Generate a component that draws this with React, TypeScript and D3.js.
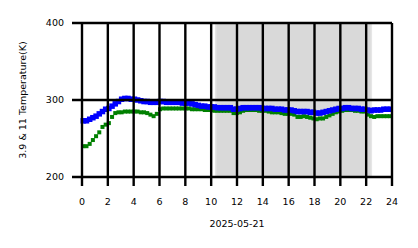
import React from "react";
import * as d3 from "d3";

const blueValues = [
  273, 273, 275, 277, 279, 282, 285, 288, 289, 292, 295, 298, 301, 302, 302, 301,
  301, 300, 299, 298, 298, 297, 297, 297, 298, 298, 297, 297, 297, 297, 297, 296,
  296, 296, 295, 294, 293, 292, 292, 291, 291, 291, 290, 290, 290, 290, 290, 288,
  288, 289, 290, 290, 290, 290, 290, 290, 289, 289, 289, 289, 288, 288, 288, 287,
  287, 287, 286, 285, 285, 285, 285, 284, 284, 283, 283, 284, 285, 286, 287, 288,
  289, 289, 290, 290, 289, 289, 289, 288, 288, 287, 286, 287, 287, 287, 288, 288, 288,
];

const greenValues = [
  240, 240, 243, 248, 253, 258, 265, 268, 270, 278, 283, 284, 284, 285, 285, 285,
  285, 285, 284, 284, 283, 281, 279, 282, 288, 289, 289, 289, 289, 289, 289, 289,
  289, 289, 288, 288, 288, 288, 287, 287, 287, 286, 286, 286, 286, 286, 286, 283,
  283, 284, 286, 287, 287, 287, 287, 286, 286, 286, 285, 284, 284, 284, 283, 282,
  282, 282, 281, 278, 278, 279, 278, 277, 276, 275, 276, 276, 278, 280, 282, 284,
  285, 286, 287, 287, 287, 286, 286, 285, 285, 281, 279, 278, 279, 279, 279, 279, 279,
];

const startHour = 0.1;
const stepHour = 0.2475;
const xTicks = [0, 2, 4, 6, 8, 10, 12, 14, 16, 18, 20, 22, 24];
const yTicks = [200, 300, 400];
const shadeSpan = [10.35, 22.4];
const xLabel = "2025-05-21";
const yLabel = "3.9 & 11 Temperature(K)";

const W = 418;
const H = 248;
const left = 82;
const right = 392;
const top = 23;
const bottom = 177;

export default function App() {
  const x = d3.scaleLinear().domain([0, 24]).range([left, right]);
  const y = d3.scaleLinear().domain([200, 400]).range([bottom, top]);
  const times = blueValues.map((_, i) => startHour + i * stepHour);
  const font = "DejaVu Sans, sans-serif";
  const bs = 5.5;
  const gs = 4;
  return (
    <svg
      width={W}
      height={H}
      style={{ position: "absolute", left: 0, top: 0, background: "#fff" }}
    >
      <rect
        x={x(shadeSpan[0])}
        y={top}
        width={x(shadeSpan[1]) - x(shadeSpan[0])}
        height={bottom - top}
        fill="#d9d9d9"
        stroke="#e6e6e6"
        strokeWidth={1.5}
      />
      {greenValues.map((v, i) => (
        <rect
          key={"g" + i}
          x={x(times[i]) - gs / 2}
          y={y(v) - gs / 2}
          width={gs}
          height={gs}
          fill="#008000"
        />
      ))}
      {blueValues.map((v, i) => (
        <rect
          key={"b" + i}
          x={x(times[i]) - bs / 2}
          y={y(v) - bs / 2}
          width={bs}
          height={bs}
          fill="#0000ff"
        />
      ))}
      {xTicks.map((t) => (
        <g key={"x" + t}>
          <line x1={x(t)} x2={x(t)} y1={top} y2={bottom + 9} stroke="#000" strokeWidth={2.4} />
          <text
            x={x(t)}
            y={205}
            textAnchor="middle"
            fontSize={9.5}
            fontFamily={font}
            fill="#000"
          >
            {t}
          </text>
        </g>
      ))}
      {yTicks.map((t) => (
        <g key={"y" + t}>
          <line x1={left - 10} x2={right} y1={y(t)} y2={y(t)} stroke="#000" strokeWidth={2.4} />
          <text
            x={64}
            y={y(t)}
            dy="0.35em"
            textAnchor="end"
            fontSize={9.5}
            fontFamily={font}
            fill="#000"
          >
            {t}
          </text>
        </g>
      ))}
      <text
        x={(left + right) / 2}
        y={227}
        textAnchor="middle"
        fontSize={9.5}
        fontFamily={font}
        fill="#000"
      >
        {xLabel}
      </text>
      <text
        transform={`translate(26, ${(top + bottom) / 2}) rotate(-90)`}
        textAnchor="middle"
        fontSize={9.5}
        fontFamily={font}
        fill="#000"
      >
        {yLabel}
      </text>
    </svg>
  );
}
